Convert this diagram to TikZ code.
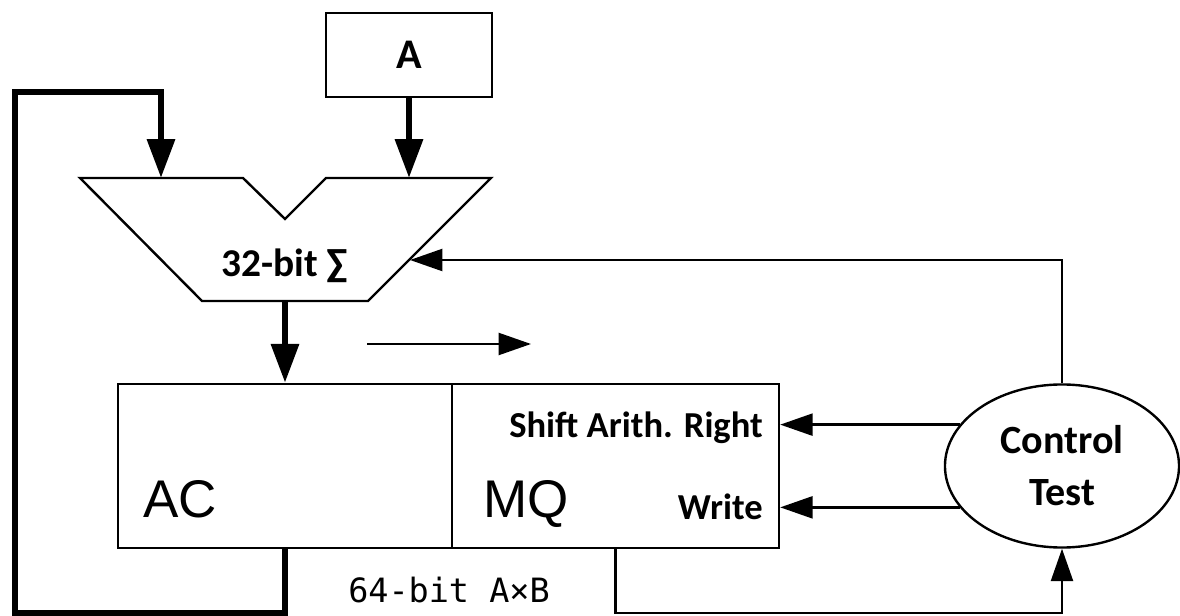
\documentclass[tikz,border=0pt]{standalone}
\usepackage{fontspec}
\setmainfont{Carlito}
\setsansfont{Liberation Sans}
\setmonofont{DejaVu Sans Mono}
\usetikzlibrary{shapes.geometric,arrows.meta}

\begin{document}
\begin{tikzpicture}[x=0.025cm,y=-0.025cm,
  wire/.style={line width=1.7pt},
  bus/.style={line width=4.6pt},
  arr/.style={-{Triangle[length=23pt,width=15.6pt]}},
  fatarr/.style={-{Triangle[length=27.7pt,width=19.2pt]}},
  lbl/.style={font=\fontsize{26}{37}\selectfont\bfseries, inner sep=0pt},
  reg/.style={draw, wire, minimum height=4.1cm, inner sep=0pt},
  big/.style={font=\fontsize{37.7}{40}\selectfont\sffamily, inner sep=0pt}]
\useasboundingbox (0,0) rectangle (1180,616);
% operand and adder
\node[draw, wire, minimum width=4.15cm, minimum height=2.1cm, inner sep=0pt,
  font=\fontsize{30}{32}\selectfont\bfseries] (A) at (409,55) {A};
\coordinate (addL) at (161,178);
\coordinate (addR) at (409,178);
\coordinate (addOut) at (285,301);
\coordinate (addCtl) at (410,260);
\draw[wire] (80,178) -- (243,178) -- (285,219) -- (326,178) -- (491,178)
  -- (368,301) -- (202,301) -- cycle;
\node[font=\fontsize{28}{30}\selectfont\bfseries, anchor=base, inner sep=0pt] (sumlbl) at (285,277) {32-bit ∑};
% registers
\node[reg, minimum width=8.35cm] (ac) at (285,466) {};
\node[reg, minimum width=8.175cm] (mq) at (615.5,466) {};
\node[big, anchor=base west] (acl) at (143,518) {AC};
\node[big, anchor=base west] (mql) at (483,518) {MQ};
\node[lbl, anchor=base east] (sar) at (763,438) {Shift Arith. Right};
\node[lbl, anchor=base east] (wr) at (763,520) {Write};
\node[font=\fontsize{23.8}{28}\selectfont\ttfamily, anchor=base, inner sep=0pt] (prod) at (449,603) {64-bit A×B};
% control
\node[draw, wire, ellipse, minimum width=5.85cm, minimum height=4.075cm, inner sep=0pt,
  font=\fontsize{28.5}{37}\selectfont\bfseries, align=center] (ctl) at (1062,466) {Control\\Test};
\coordinate (shiftL) at (367,344);
\coordinate (shiftR) at (531,344);
\coordinate (loopTop) at (15,92);
% connections
\draw[bus, fatarr] (A) -- (addR);
\draw[bus, fatarr] (addOut) -- (ac.north);
\draw[bus, fatarr] (ac.south) -- ++(0,64) -| (loopTop) -| (addL);
\draw[wire, arr] (shiftL) -- (shiftR);
\draw[wire, arr] (ctl.158) -- (ctl.158 -| mq.east);
\draw[wire, arr] (ctl.202) -- (ctl.202 -| mq.east);
\draw[wire, arr] (ctl.north) |- (addCtl);
\draw[wire, arr] (mq.south) -- ++(0,64) -| (ctl.south);
\end{tikzpicture}
\end{document}
